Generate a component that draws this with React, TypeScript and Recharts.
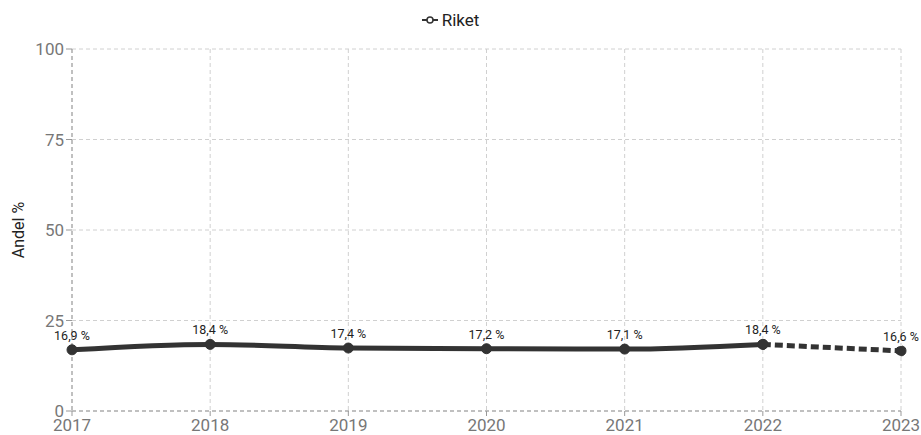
import { LineChart, Line, XAxis, YAxis, CartesianGrid, Legend, LabelList } from "recharts";

const years = ["2017", "2018", "2019", "2020", "2021", "2022", "2023"];
const riketSolid = [16.9, 18.4, 17.4, 17.2, 17.1, 18.4, null];
const riketDashed = [null, null, null, null, null, 18.4, 16.6];
const yTicks = [0, 25, 50, 75, 100];

const data = years.map((year, i) => ({
  year,
  solid: riketSolid[i],
  dashed: riketDashed[i],
}));

const fmt = (v: any) => (v == null ? "" : `${String(v).replace(".", ",")} %`);

function LegendContent() {
  return (
    <div style={{ display: "flex", justifyContent: "center", alignItems: "center", fontSize: 17, color: "#222", paddingTop: 2 }}>
      <svg width={16} height={10} style={{ marginRight: 4 }}>
        <line x1={0} y1={5} x2={16} y2={5} stroke="#333" strokeWidth={2} />
        <circle cx={8} cy={5} r={3} fill="#fff" stroke="#333" strokeWidth={1.5} />
      </svg>
      <span>Riket</span>
    </div>
  );
}

export default function App() {
  return (
    <div style={{ position: "absolute", left: 0, top: 0, fontFamily: "Roboto, sans-serif" }}>
      <LineChart width={921} height={435} data={data} margin={{ top: 8, right: 20, left: 0, bottom: 0 }}>
        <CartesianGrid stroke="#d0d0d0" strokeDasharray="4 3" />
        <Legend verticalAlign="top" align="center" height={41} content={<LegendContent />} />
        <XAxis
          dataKey="year"
          height={24}
          tick={{ fontSize: 17, fill: "#777", dy: 1 }}
          tickLine={{ stroke: "#999" }}
          tickSize={5}
          axisLine={{ stroke: "#999", strokeDasharray: "4 3" }}
        />
        <YAxis
          domain={[0, 100]}
          ticks={yTicks}
          width={72}
          tick={{ fontSize: 17, fill: "#777" }}
          tickLine={{ stroke: "#999" }}
          tickSize={6}
          axisLine={{ stroke: "#999", strokeDasharray: "4 3" }}
          label={{ value: "Andel %", angle: -90, position: "insideLeft", offset: 18, style: { fontSize: 16, fill: "#222", textAnchor: "middle" } }}
        />
        <Line
          type="monotone"
          dataKey="solid"
          stroke="#333"
          strokeWidth={5}
          dot={{ r: 5, fill: "#333", stroke: "#333", strokeWidth: 1 }}
          connectNulls={false}
          isAnimationActive={false}
        >
          <LabelList dataKey="solid" position="top" offset={10} formatter={fmt} style={{ fontSize: 12.5, fill: "#222" }} />
        </Line>
        <Line
          type="monotone"
          dataKey="dashed"
          stroke="#333"
          strokeWidth={5}
          strokeDasharray="8 4"
          dot={{ r: 5, fill: "#333", stroke: "#333", strokeWidth: 1 }}
          isAnimationActive={false}
          legendType="none"
        >
          <LabelList
            dataKey="dashed"
            content={(p: any) =>
              p.index === 6 ? (
                <text x={p.x} y={p.y - 10} textAnchor="middle" fontSize={12.5} fill="#222">
                  {fmt(p.value)}
                </text>
              ) : null
            }
          />
        </Line>
      </LineChart>
    </div>
  );
}
